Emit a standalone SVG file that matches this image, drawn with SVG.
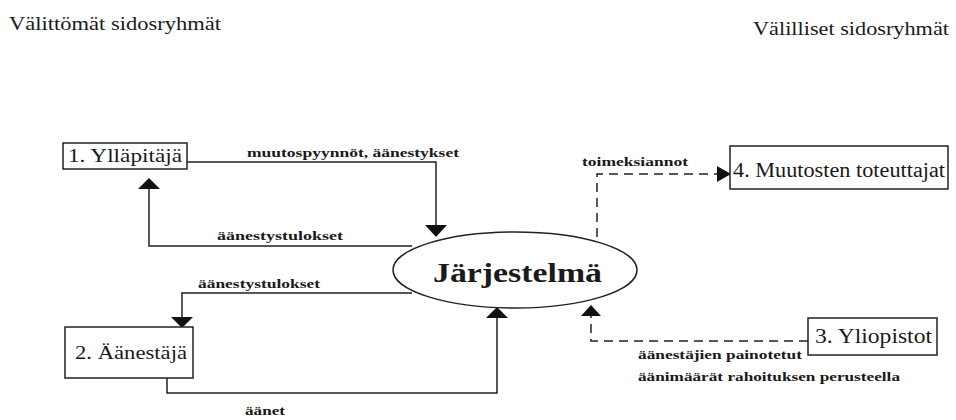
<svg xmlns="http://www.w3.org/2000/svg" width="956" height="420" viewBox="0 0 956 420">
<style>
text{font-family:"Liberation Serif","DejaVu Serif",serif;fill:#1a1a1a}
.t{font-size:18px}
.n{font-size:19px}
.l{font-size:12.5px;font-weight:bold}
.box{fill:#fff;stroke:#222;stroke-width:1.5}
.ln{fill:none;stroke:#222;stroke-width:1.5}
.dl{fill:none;stroke:#222;stroke-width:1.5;stroke-dasharray:9 6}
.ah{fill:#111}
</style>
<rect width="956" height="420" fill="#fff"/>
<text class="t" x="9" y="30" textLength="212" lengthAdjust="spacingAndGlyphs">Välittömät sidosryhmät</text>
<text class="t" x="753" y="35" textLength="196" lengthAdjust="spacingAndGlyphs">Välilliset sidosryhmät</text>

<g id="connectors">
  <polyline class="ln" points="187,162 436,162 436,226"/>
  <polygon class="ah" points="425,225 447,225 436,237"/>
  <text class="l" x="247" y="157" textLength="212" lengthAdjust="spacingAndGlyphs">muutospyynnöt, äänestykset</text>

  <polyline class="ln" points="412,246 149,246 149,188"/>
  <polygon class="ah" points="138,189 160,189 149,178"/>
  <text class="l" x="217" y="240" textLength="126" lengthAdjust="spacingAndGlyphs">äänestystulokset</text>

  <polyline class="ln" points="412,293 182,293 182,318"/>
  <polygon class="ah" points="171,317 193,317 182,328"/>
  <text class="l" x="198" y="288" textLength="122" lengthAdjust="spacingAndGlyphs">äänestystulokset</text>

  <polyline class="ln" points="167,378 167,393 497,393 497,318"/>
  <polygon class="ah" points="486,318 508,318 497,307"/>
  <text class="l" x="245" y="415" textLength="40" lengthAdjust="spacingAndGlyphs">äänet</text>

  <polyline class="dl" points="597,237 597,174 718,174"/>
  <polygon class="ah" points="717,166 717,182 731,174"/>
  <text class="l" x="582" y="166" textLength="106" lengthAdjust="spacingAndGlyphs">toimeksiannot</text>

  <polyline class="dl" points="808,341 591,341 591,316"/>
  <polygon class="ah" points="581,316 601,316 591,305"/>
  <text class="l" x="638" y="359" textLength="164" lengthAdjust="spacingAndGlyphs">äänestäjien painotetut</text>
  <text class="l" x="638" y="381" textLength="262" lengthAdjust="spacingAndGlyphs">äänimäärät rahoituksen perusteella</text>
</g>

<g id="node-jarjestelma">
  <ellipse cx="515" cy="270" rx="122" ry="38" fill="#fff" stroke="#222" stroke-width="1.5"/>
  <text x="433" y="282" style="font-size:28px;font-weight:bold" textLength="169" lengthAdjust="spacingAndGlyphs">Järjestelmä</text>
</g>
<g id="node-1">
  <rect class="box" x="63" y="143" width="124" height="26"/>
  <text class="n" x="68" y="162" textLength="114" lengthAdjust="spacingAndGlyphs">1. Ylläpitäjä</text>
</g>
<g id="node-2">
  <rect class="box" x="65" y="327" width="128" height="51"/>
  <text class="n" x="75" y="359" textLength="112" lengthAdjust="spacingAndGlyphs">2. Äänestäjä</text>
</g>
<g id="node-3">
  <rect class="box" x="808" y="318" width="129" height="37"/>
  <text class="n" x="815" y="343" style="font-size:20px" textLength="117" lengthAdjust="spacingAndGlyphs">3. Yliopistot</text>
</g>
<g id="node-4">
  <rect class="box" x="730" y="146" width="218" height="43"/>
  <text class="n" x="733" y="177" style="font-size:20px" textLength="212" lengthAdjust="spacingAndGlyphs">4. Muutosten toteuttajat</text>
</g>
</svg>
